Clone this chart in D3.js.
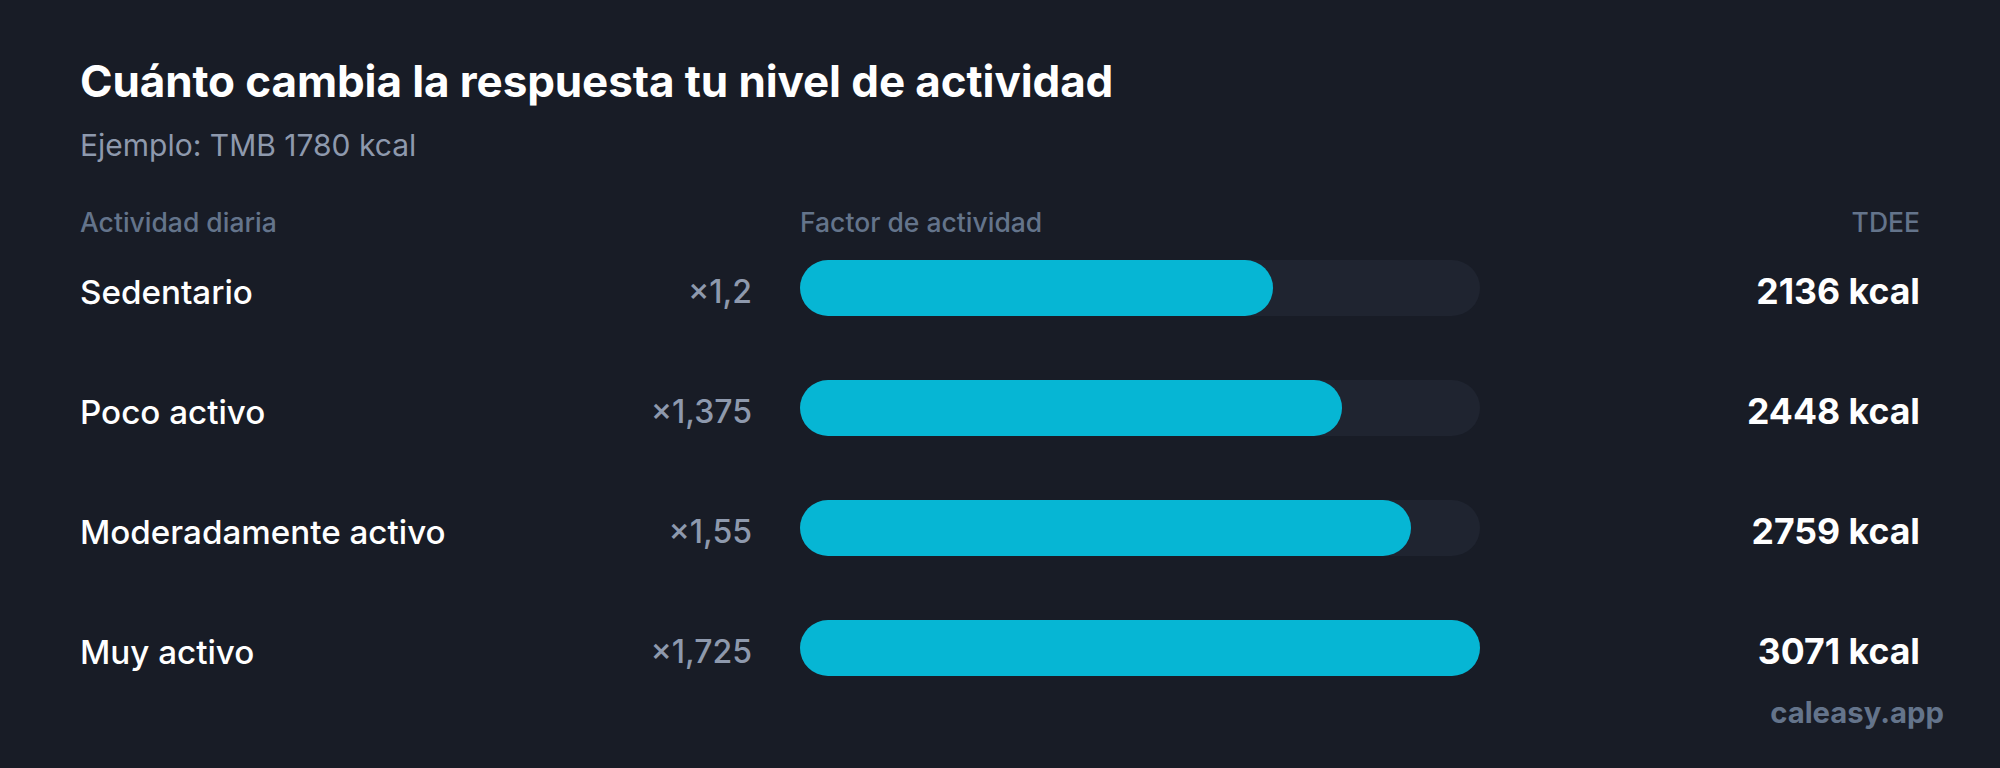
<!DOCTYPE html>
<html>
<head>
<meta charset="utf-8">
<script src="https://cdn.jsdelivr.net/npm/d3@7"></script>
<style>
  html, body { margin: 0; padding: 0; background: #181c26; }
  svg { display: block; font-family: Inter, "Noto Sans", sans-serif; }
</style>
</head>
<body>
<svg id="chart"></svg>
<script>
// chart data
const activities = ["Sedentario", "Poco activo", "Moderadamente activo", "Muy activo"];
const factors = [1.2, 1.375, 1.55, 1.725];
const factorLabels = ["×1,2", "×1,375", "×1,55", "×1,725"];
const tdee = [2136, 2448, 2759, 3071];
const bmr = 1780;

const width = 2000;
const height = 768;
const margin = { left: 80, right: 80 };
const barX0 = 800;
const barX1 = 1480;
const barH = 56;

const svg = d3.select("#chart")
  .attr("width", width)
  .attr("height", height);

svg.append("rect")
  .attr("width", width)
  .attr("height", height)
  .attr("fill", "#181c26");

// title + subtitle
svg.append("text")
  .attr("x", margin.left)
  .attr("y", 97)
  .attr("fill", "#ffffff")
  .attr("font-size", 44)
  .attr("font-weight", 700)
  .attr("letter-spacing", -0.1)
  .text("Cuánto cambia la respuesta tu nivel de actividad");

svg.append("text")
  .attr("x", margin.left)
  .attr("y", 156)
  .attr("fill", "#8e99ad")
  .attr("font-size", 30)
  .text(`Ejemplo: TMB ${bmr} kcal`);

// column headers
const headerY = 232;
const header = svg.append("g")
  .attr("fill", "#64748b")
  .attr("font-size", 26.5)
  .attr("font-weight", 500);
header.append("text").attr("x", margin.left).attr("y", headerY).text("Actividad diaria");
header.append("text").attr("x", barX0).attr("y", headerY).text("Factor de actividad");
header.append("text").attr("x", width - margin.right).attr("y", headerY)
  .attr("text-anchor", "end").text("TDEE");

// scales
const y = d3.scaleBand()
  .domain(activities)
  .range([228, 708])
  .paddingInner(0)
  .paddingOuter(0);

const x = d3.scaleLinear()
  .domain([0, d3.max(factors)])
  .range([0, barX1 - barX0]);

const rows = svg.selectAll("g.row")
  .data(activities.map((a, i) => ({
    name: a, factor: factors[i], label: factorLabels[i], tdee: tdee[i]
  })))
  .join("g")
  .attr("class", "row")
  .attr("transform", d => `translate(0, ${y(d.name) + y.bandwidth() / 2})`);

// track
rows.append("rect")
  .attr("x", barX0)
  .attr("y", -barH / 2)
  .attr("width", barX1 - barX0)
  .attr("height", barH)
  .attr("rx", barH / 2)
  .attr("fill", "#1f2430");

// fill
rows.append("rect")
  .attr("x", barX0)
  .attr("y", -barH / 2)
  .attr("width", d => x(d.factor))
  .attr("height", barH)
  .attr("rx", barH / 2)
  .attr("fill", "#06b6d4");

rows.append("text")
  .attr("x", margin.left)
  .attr("y", 16)
  .attr("fill", "#ffffff")
  .attr("font-size", 33.2)
  .attr("font-weight", 500)
  .text(d => d.name);

rows.append("text")
  .attr("x", 752)
  .attr("y", 15)
  .attr("text-anchor", "end")
  .attr("fill", "#8e99ad")
  .attr("font-size", 32)
  .attr("font-weight", 500)
  .text(d => d.label);

rows.append("text")
  .attr("x", width - margin.right)
  .attr("y", 16)
  .attr("text-anchor", "end")
  .attr("fill", "#ffffff")
  .attr("font-size", 35.6)
  .attr("font-weight", 700)
  .text(d => `${d.tdee} kcal`);

// watermark
svg.append("text")
  .attr("x", 1944)
  .attr("y", 723)
  .attr("text-anchor", "end")
  .attr("fill", "#64748b")
  .attr("font-size", 29.3)
  .attr("font-weight", 700)
  .text("caleasy.app");
</script>
</body>
</html>
